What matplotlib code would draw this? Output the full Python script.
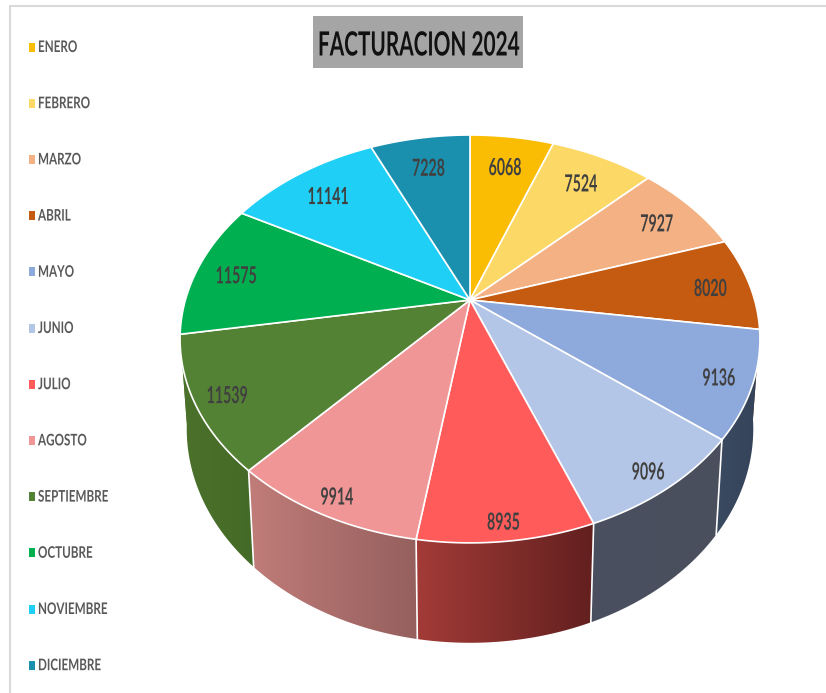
# ------------------------------------------------------------
# FACTURACION 2024 - 3D style pie chart
# ------------------------------------------------------------
import numpy as np
import matplotlib
matplotlib.use("Agg")
import matplotlib.pyplot as plt
from matplotlib.colors import to_rgb
from matplotlib.patches import Polygon, Rectangle
from matplotlib.patheffects import AbstractPathEffect
from matplotlib.transforms import Affine2D

# ------------------------------------------------------------
# DATA
# ------------------------------------------------------------
months = ["ENERO", "FEBRERO", "MARZO", "ABRIL", "MAYO", "JUNIO", "JULIO",
          "AGOSTO", "SEPTIEMBRE", "OCTUBRE", "NOVIEMBRE", "DICIEMBRE"]
values = [6068, 7524, 7927, 8020, 9136, 9096, 8935, 9914, 11539, 11575, 11141, 7228]
colors = ["#FBBC04", "#FCD966", "#F4B183", "#C55A11", "#8EA9DB", "#B4C6E7",
          "#FF5B5B", "#F09696", "#548235", "#00B050", "#1FCFF5", "#1A8FAE"]

# side wall colours, left and right end of the gradient
wall_left = ["#7F6000", "#7F6000", "#7F5030", "#62300A", "#3A4A60", "#4B5060",
             "#A33B37", "#C07C78", "#4B712B", "#4B712B", "#107A90", "#0E5060"]
wall_right = ["#7F6000", "#7F6000", "#7F5030", "#62300A", "#35435A", "#4A4F5E",
              "#62201F", "#95605E", "#446A27", "#4B712B", "#107A90", "#0E5060"]

title = "FACTURACION 2024"

# ------------------------------------------------------------
# GEOMETRY (pixels of the picture)
# ------------------------------------------------------------
CX, CY = 470, 300
RX, RY = 284.6, 196.5
K = 0.191
WALL_Y0, WALL_SX, WALL_SY = 388, 0.977, 1.049
FONT = ["Lato", "DejaVu Sans"]


class Squeeze(AbstractPathEffect):
    """Draws the text narrower, the installed fonts are all too wide."""

    def __init__(self, sx, centered=True):
        super().__init__()
        self.sx = sx
        self.centered = centered

    def draw_path(self, renderer, gc, tpath, affine, rgbFace=None):
        mid = 0
        if self.centered:
            box = tpath.get_extents()
            mid = (box.x0 + box.x1) / 2
        squeeze = Affine2D().translate(-mid, 0).scale(self.sx, 1).translate(mid, 0)
        renderer.draw_path(gc, tpath, squeeze + affine, rgbFace)


def top_point(angle, r=1.0):
    """Perspective projection of a point on the disc, angle clockwise from the top."""
    a = r * np.sin(angle)
    b = r * np.cos(angle)
    d = 1 + K * b
    return CX + RX * a / d, CY - RY * b / d


def wall_point(angle):
    """Same point on the lower rim."""
    x, y = top_point(angle)
    return CX + WALL_SX * (x - CX), WALL_Y0 + WALL_SY * (y - CY)


fig = plt.figure(figsize=(8.26, 6.93), dpi=100)
ax = fig.add_axes([0, 0, 1, 1])

# frame of the chart area
ax.plot([826, 10, 10], [6, 6, 693], color="#D9D9D9", lw=1.5, zorder=1)

# ------------------------------------------------------------
# SLICES
# ------------------------------------------------------------
fractions = np.array(values) / sum(values)
edges = np.concatenate([[0], np.cumsum(fractions)]) * 2 * np.pi

# side walls first, the top hides whatever is behind
for i in range(len(values)):
    t = np.linspace(edges[i], edges[i + 1], 60)
    if min(np.cos(t)) > -0.1:
        continue
    xt, yt = top_point(t)
    xb, yb = wall_point(t)
    pts = np.column_stack([np.r_[xt, xb[::-1]], np.r_[yt, yb[::-1]]])
    poly = Polygon(pts, closed=True, facecolor="none", edgecolor="none")
    ax.add_patch(poly)
    grad = np.linspace(to_rgb(wall_left[i]), to_rgb(wall_right[i]), 64)[None, :, :]
    im = ax.imshow(grad, extent=[pts[:, 0].min(), pts[:, 0].max(), pts[:, 1].max(), pts[:, 1].min()],
                   aspect="auto", zorder=2, interpolation="bilinear")
    im.set_clip_path(poly)

# white separators between the visible walls
for e in edges:
    if np.cos(e) < -0.3:
        xt, yt = top_point(e)
        xb, yb = wall_point(e)
        ax.plot([xt, xb], [yt, yb], color="white", lw=1.2, zorder=3)

# top of the pie
for i in range(len(values)):
    t = np.linspace(edges[i], edges[i + 1], 60)
    xt, yt = top_point(t)
    pts = np.column_stack([np.r_[CX, xt], np.r_[CY, yt]])
    ax.add_patch(Polygon(pts, closed=True, facecolor=colors[i], edgecolor="white",
                         lw=1.2, zorder=4))

    # value label, the labels sit further out towards the front
    mid = (edges[i] + edges[i + 1]) / 2
    lx, ly = top_point(mid, 0.865 - 0.06 * np.cos(mid))
    ax.text(lx, ly + 3, str(values[i]), ha="center", va="center", fontsize=17, fontweight="bold",
            family=FONT, color="#404040", zorder=5, path_effects=[Squeeze(0.6)])

# ------------------------------------------------------------
# TITLE AND LEGEND
# ------------------------------------------------------------
ax.add_patch(Rectangle((313, 16), 210, 52, facecolor="#A5A5A5", edgecolor="none", zorder=5))
ax.text(418.5, 46, title, ha="center", va="center", fontsize=24, fontweight="bold",
        family=FONT, color="#111111", zorder=6, path_effects=[Squeeze(0.624)])

for i, month in enumerate(months):
    y = 47 + i * 56.2
    ax.add_patch(Rectangle((29, y - 4.5), 5.5, 9, facecolor=colors[i], edgecolor="none", zorder=5))
    ax.text(38, y + 1, month, ha="left", va="center", fontsize=11.5, fontweight="bold",
            family=FONT, color="#595959", zorder=5, path_effects=[Squeeze(0.73, centered=False)])

ax.set_xlim(0, 826)
ax.set_ylim(693, 0)
ax.axis("off")

fig.savefig("out.png", dpi=100, facecolor="white")
